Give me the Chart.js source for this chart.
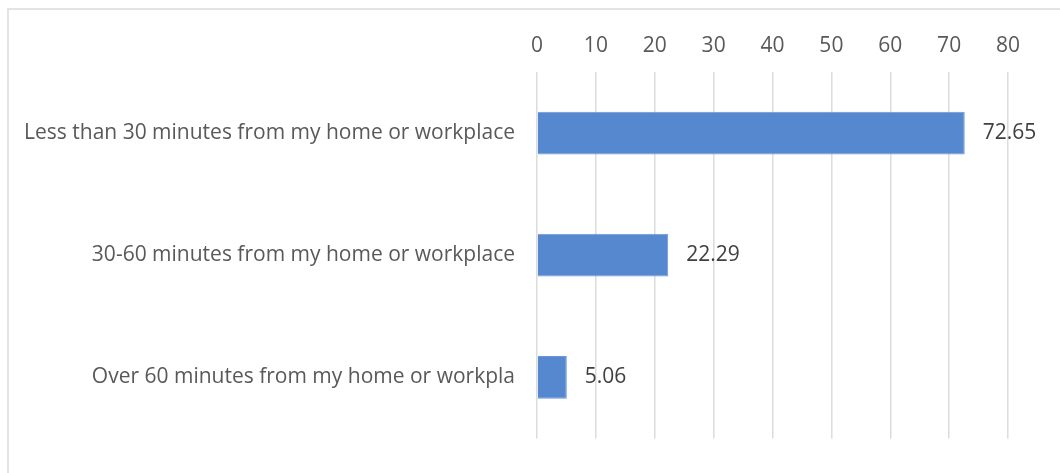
<!DOCTYPE html>
<html>
<head>
<meta charset="utf-8">
<script src="https://cdn.jsdelivr.net/npm/chart.js@4/dist/chart.umd.min.js"></script>
<style>
  html, body { margin: 0; padding: 0; background: #fff; }
  body { width: 1060px; height: 473px; position: relative; overflow: hidden; }
  .frame { position: absolute; left: 7px; top: 8px; width: 1100px; height: 520px; border: 2px solid #e3e3e3; box-sizing: border-box; }
  #wrap { position: absolute; left: 0; top: 0; width: 1060px; height: 473px; }
</style>
</head>
<body>
<div class="frame"></div>
<div id="wrap"><canvas id="graph"></canvas></div>
<script>
const categories = [
  'Less than 30 minutes from my home or workplace',
  '30-60 minutes from my home or workplace',
  'Over 60 minutes from my home or workpla'
];
const shares = [72.65, 22.29, 5.06];
const xTicks = [0, 10, 20, 30, 40, 50, 60, 70, 80];

const fontFam = '"Open Sans", sans-serif';
const fontSize = 21;

// value labels right of each bar
const barLabels = {
  id: 'barLabels',
  afterDatasetsDraw(chart) {
    const ctx = chart.ctx;
    const meta = chart.getDatasetMeta(0);
    ctx.save();
    ctx.font = fontSize + 'px ' + fontFam;
    ctx.fillStyle = '#404040';
    ctx.textAlign = 'left';
    ctx.textBaseline = 'middle';
    meta.data.forEach((bar, i) => {
      ctx.fillText(shares[i].toFixed(2), bar.x + 18, bar.y);
    });
    ctx.restore();
  }
};

var ctx = document.getElementById('graph').getContext('2d');
var myChart = new Chart(ctx, {
  type: 'bar',
  data: {
    labels: categories,
    datasets: [{
      data: shares,
      backgroundColor: '#5588cf',
      borderColor: '#6a97d6',
      borderWidth: 1,
      categoryPercentage: 1,
      barPercentage: 0.35
    }]
  },
  options: {
    indexAxis: 'y',
    responsive: true,
    maintainAspectRatio: false,
    animation: false,
    layout: { padding: { top: 0, right: 52, bottom: 31, left: 0 } },
    plugins: { legend: { display: false }, tooltip: { enabled: false } },
    scales: {
      x: {
        position: 'top',
        min: 0,
        max: 80,
        afterBuildTicks: (axis) => { axis.ticks = xTicks.map(v => ({ value: v })); },
        afterFit: (axis) => { axis.height = 72; },
        grid: { color: '#dcdcdc', lineWidth: 1.5, drawTicks: false },
        border: { display: false },
        ticks: {
          padding: 13,
          color: '#595959',
          font: { family: fontFam, size: fontSize }
        }
      },
      y: {
        afterFit: (axis) => { axis.width = 537; },
        grid: { display: false, drawTicks: false },
        border: { display: false },
        ticks: {
          padding: 22,
          color: '#595959',
          font: { family: fontFam, size: fontSize }
        }
      }
    }
  },
  plugins: [barLabels]
});
</script>
</body>
</html>
